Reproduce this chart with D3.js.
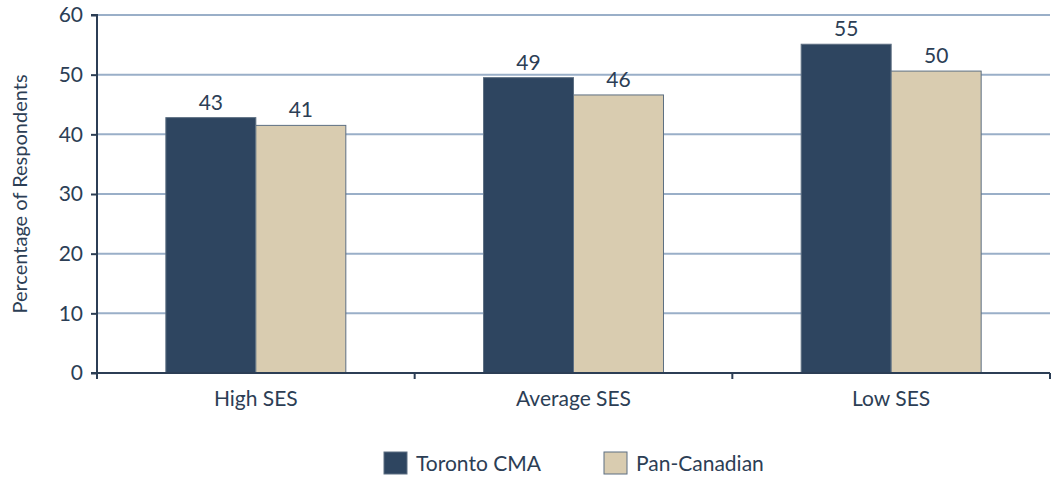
<!DOCTYPE html>
<html>
<head>
<meta charset="utf-8">
<script src="https://cdn.jsdelivr.net/npm/d3@7"></script>
<style>
  body { margin: 0; background: #fff; }
  text { font-family: Lato, "Open Sans", sans-serif; fill: #2c3e55; }
</style>
</head>
<body>
<div id="chart"></div>
<script>
// categories + series
const categories = ["High SES", "Average SES", "Low SES"];
const seriesNames = ["Toronto CMA", "Pan-Canadian"];
const toronto = [42.8, 49.5, 55.1];
const panCanadian = [41.5, 46.6, 50.6];
const torontoLabels = ["43", "49", "55"];
const panLabels = ["41", "46", "50"];
const yTicks = [0, 10, 20, 30, 40, 50, 60];

let width = 1052;
let height = 477;
const margin = { top: 15, right: 2, bottom: 104, left: 97 };

const colors = ["#2e4560", "#d9ccb0"];

const svg = d3.select("#chart")
  .append("svg")
  .attr("width", width)
  .attr("height", height);

const x = d3.scaleBand()
  .domain(categories)
  .range([margin.left, width - margin.right])
  .paddingInner(0)
  .paddingOuter(0);

const y = d3.scaleLinear()
  .domain([0, 60])
  .range([height - margin.bottom, margin.top]);

// bars inside each band, about 180 of 318px
const x1 = d3.scaleBand()
  .domain(seriesNames)
  .range([0, x.bandwidth()])
  .paddingOuter(0.765)
  .paddingInner(0);

// gridlines
svg.append("g")
  .selectAll("line")
  .data(yTicks.filter(d => d > 0))
  .enter()
  .append("line")
  .attr("x1", margin.left)
  .attr("x2", width - margin.right)
  .attr("y1", d => y(d))
  .attr("y2", d => y(d))
  .style("stroke", "#9aafc8")
  .style("stroke-width", 2);

// bars
const rows = categories.map((c, i) => ({
  cat: c,
  vals: [
    { s: seriesNames[0], v: toronto[i], label: torontoLabels[i] },
    { s: seriesNames[1], v: panCanadian[i], label: panLabels[i] }
  ]
}));

const groups = svg.selectAll(".grp")
  .data(rows)
  .enter()
  .append("g")
  .attr("class", "grp")
  .attr("transform", d => "translate(" + x(d.cat) + ",0)");

groups.selectAll("rect")
  .data(d => d.vals)
  .enter()
  .append("rect")
  .attr("x", d => x1(d.s))
  .attr("y", d => y(d.v))
  .attr("width", x1.bandwidth())
  .attr("height", d => y(0) - y(d.v))
  .style("fill", (d, i) => colors[i])
  .style("stroke", "#5d6f82")
  .style("stroke-width", 1);

groups.selectAll(".val")
  .data(d => d.vals)
  .enter()
  .append("text")
  .attr("class", "val")
  .attr("x", d => x1(d.s) + x1.bandwidth() / 2)
  .attr("y", d => y(d.v) - 8)
  .attr("text-anchor", "middle")
  .style("font-size", "21px")
  .text(d => d.label);

// y axis
const yAxis = svg.append("g")
  .attr("transform", "translate(" + margin.left + ",0)")
  .call(d3.axisLeft(y).tickValues(yTicks).tickSize(6).tickPadding(8));
yAxis.selectAll("text").style("font-size", "21px").style("fill", "#2c3e55");
yAxis.selectAll("line").style("stroke", "#2c3e55").style("stroke-width", 2);
yAxis.select(".domain").style("stroke", "#2c3e55").style("stroke-width", 2)
  .attr("d", "M-6," + y(60) + "H0V" + y(0) + "H-6");

// x axis - ticks at band edges
const xAxisG = svg.append("g")
  .attr("transform", "translate(0," + y(0) + ")");
xAxisG.append("line")
  .attr("x1", margin.left)
  .attr("x2", width - margin.right)
  .style("stroke", "#2c3e55")
  .style("stroke-width", 2);
const edges = categories.map(c => x(c)).concat([x(categories[categories.length - 1]) + x.bandwidth()]);
xAxisG.selectAll(".tk")
  .data(edges)
  .enter()
  .append("line")
  .attr("class", "tk")
  .attr("x1", d => d)
  .attr("x2", d => d)
  .attr("y1", 0)
  .attr("y2", 6)
  .style("stroke", "#2c3e55")
  .style("stroke-width", 2);
xAxisG.selectAll(".cl")
  .data(categories)
  .enter()
  .append("text")
  .attr("class", "cl")
  .attr("x", d => x(d) + x.bandwidth() / 2)
  .attr("y", 33)
  .attr("text-anchor", "middle")
  .style("font-size", "21px")
  .text(d => d);

// y title
svg.append("text")
  .attr("transform", "translate(27," + (y(30)) + ") rotate(-90)")
  .attr("text-anchor", "middle")
  .style("font-size", "20px")
  .text("Percentage of Respondents");

// legend
const legend = svg.append("g").attr("transform", "translate(384,452)");
const legendX = [0, 220];
seriesNames.forEach((s, i) => {
  legend.append("rect")
    .attr("x", legendX[i])
    .attr("y", 0)
    .attr("width", 23)
    .attr("height", 22)
    .style("fill", colors[i])
    .style("stroke", "#5d6f82")
    .style("stroke-width", 1);
  legend.append("text")
    .attr("x", legendX[i] + 32)
    .attr("y", 19)
    .style("font-size", "21px")
    .text(s);
});
</script>
</body>
</html>
